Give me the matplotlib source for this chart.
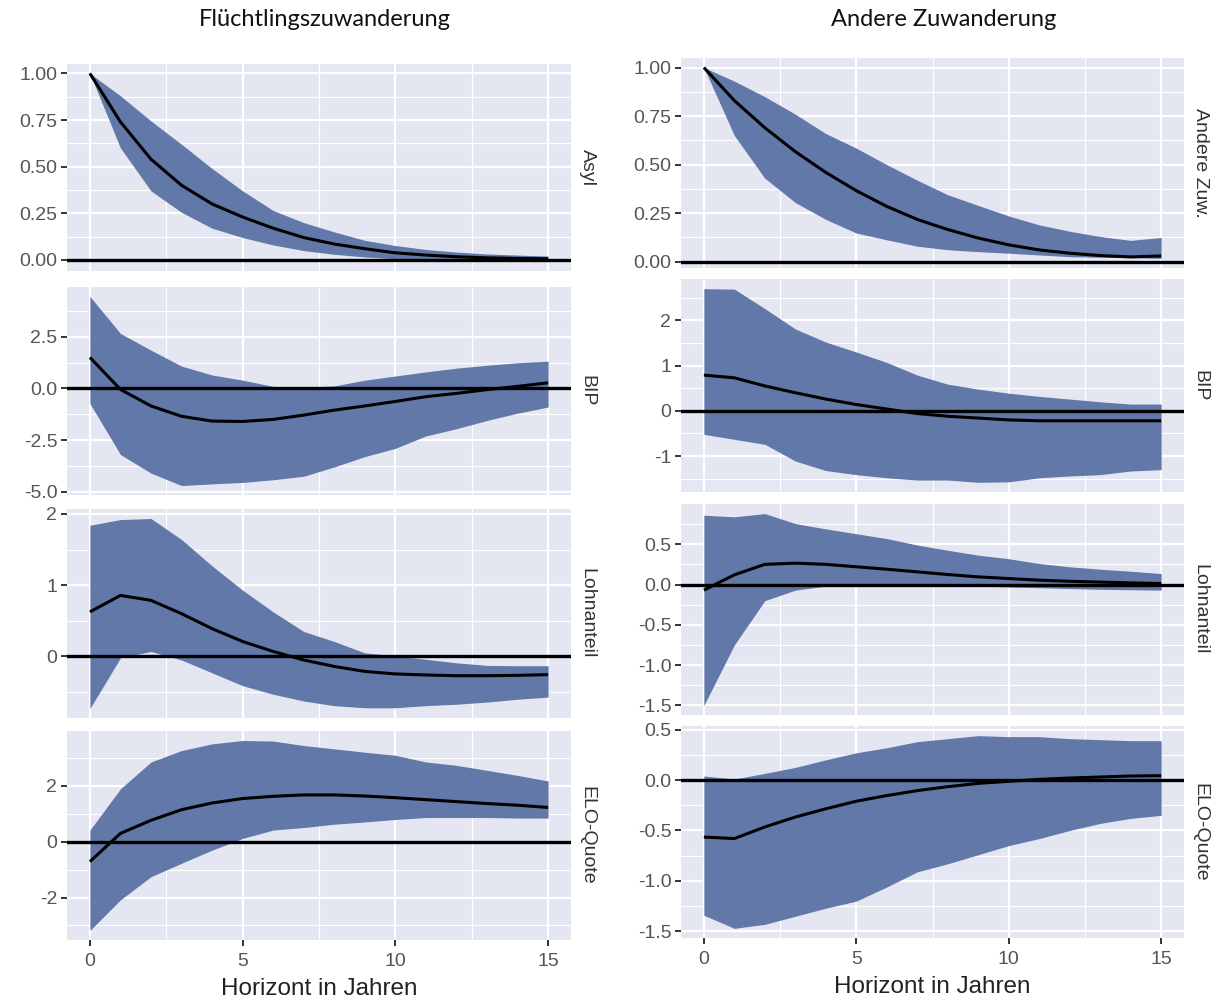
import matplotlib
matplotlib.use("Agg")
import matplotlib.pyplot as plt
import numpy as np

horizon = list(range(16))

col_titles = ["Flüchtlingszuwanderung", "Andere Zuwanderung"]
x_label = "Horizont in Jahren"
x_ticks = [0, 5, 10, 15]

# ---- Left column: Flüchtlingszuwanderung ----
l_asyl_mid = [1.00, 0.74, 0.54, 0.40, 0.30, 0.23, 0.17, 0.12, 0.085, 0.06, 0.038, 0.026, 0.017, 0.011, 0.008, 0.006]
l_asyl_up = [1.00, 0.88, 0.745, 0.62, 0.49, 0.37, 0.265, 0.20, 0.15, 0.105, 0.077, 0.056, 0.042, 0.032, 0.026, 0.021]
l_asyl_lo = [1.00, 0.60, 0.37, 0.255, 0.17, 0.12, 0.08, 0.05, 0.03, 0.016, 0.006, 0.0, -0.004, -0.006, -0.008, -0.009]

l_bip_mid = [1.50, -0.05, -0.85, -1.35, -1.58, -1.60, -1.50, -1.29, -1.05, -0.85, -0.63, -0.40, -0.24, -0.06, 0.10, 0.27]
l_bip_up = [4.45, 2.66, 1.85, 1.08, 0.65, 0.40, 0.10, 0.06, 0.12, 0.40, 0.60, 0.80, 0.98, 1.12, 1.24, 1.32]
l_bip_lo = [-0.73, -3.20, -4.10, -4.70, -4.62, -4.55, -4.42, -4.25, -3.80, -3.30, -2.90, -2.30, -1.95, -1.55, -1.20, -0.90]

l_lohn_mid = [0.625, 0.856, 0.787, 0.60, 0.39, 0.21, 0.07, -0.05, -0.14, -0.21, -0.245, -0.26, -0.27, -0.27, -0.265, -0.255]
l_lohn_up = [1.84, 1.92, 1.935, 1.64, 1.27, 0.93, 0.625, 0.35, 0.21, 0.05, 0.01, -0.04, -0.09, -0.125, -0.13, -0.13]
l_lohn_lo = [-0.73, -0.02, 0.07, -0.05, -0.23, -0.41, -0.53, -0.625, -0.69, -0.72, -0.72, -0.69, -0.67, -0.64, -0.60, -0.57]

l_elo_mid = [-0.71, 0.30, 0.77, 1.15, 1.39, 1.55, 1.63, 1.68, 1.68, 1.64, 1.58, 1.51, 1.44, 1.37, 1.31, 1.23]
l_elo_up = [0.42, 1.90, 2.86, 3.27, 3.51, 3.63, 3.61, 3.45, 3.33, 3.21, 3.10, 2.86, 2.74, 2.56, 2.38, 2.18]
l_elo_lo = [-3.18, -2.08, -1.25, -0.77, -0.30, 0.12, 0.42, 0.51, 0.63, 0.71, 0.80, 0.87, 0.87, 0.87, 0.85, 0.85]

# ---- Right column: Andere Zuwanderung ----
r_zuw_mid = [1.00, 0.83, 0.69, 0.567, 0.46, 0.366, 0.285, 0.218, 0.166, 0.122, 0.087, 0.061, 0.044, 0.032, 0.025, 0.03]
r_zuw_up = [1.00, 0.93, 0.85, 0.76, 0.66, 0.585, 0.50, 0.42, 0.345, 0.29, 0.236, 0.19, 0.157, 0.13, 0.11, 0.125]
r_zuw_lo = [1.00, 0.65, 0.43, 0.305, 0.218, 0.148, 0.113, 0.08, 0.062, 0.052, 0.044, 0.035, 0.026, 0.023, 0.021, 0.017]

r_bip_mid = [0.79, 0.73, 0.55, 0.40, 0.26, 0.14, 0.04, -0.06, -0.12, -0.16, -0.20, -0.22, -0.22, -0.22, -0.22, -0.22]
r_bip_up = [2.70, 2.69, 2.26, 1.81, 1.52, 1.30, 1.07, 0.79, 0.59, 0.48, 0.39, 0.32, 0.26, 0.20, 0.15, 0.15]
r_bip_lo = [-0.52, -0.63, -0.74, -1.11, -1.32, -1.41, -1.48, -1.53, -1.53, -1.58, -1.57, -1.48, -1.44, -1.41, -1.33, -1.30]

r_lohn_mid = [-0.07, 0.12, 0.25, 0.265, 0.25, 0.22, 0.19, 0.157, 0.124, 0.095, 0.074, 0.054, 0.04, 0.03, 0.02, 0.012]
r_lohn_up = [0.86, 0.84, 0.88, 0.756, 0.69, 0.63, 0.57, 0.49, 0.425, 0.364, 0.32, 0.26, 0.22, 0.19, 0.165, 0.136]
r_lohn_lo = [-1.50, -0.75, -0.20, -0.07, -0.02, -0.01, -0.01, -0.01, -0.015, -0.02, -0.03, -0.04, -0.05, -0.06, -0.065, -0.07]

r_elo_mid = [-0.565, -0.58, -0.465, -0.367, -0.285, -0.21, -0.154, -0.105, -0.066, -0.033, -0.013, 0.007, 0.02, 0.03, 0.04, 0.043]
r_elo_up = [0.04, 0.01, 0.066, 0.125, 0.20, 0.27, 0.32, 0.38, 0.41, 0.44, 0.43, 0.43, 0.41, 0.40, 0.39, 0.39]
r_elo_lo = [-1.34, -1.47, -1.43, -1.35, -1.27, -1.20, -1.06, -0.91, -0.83, -0.74, -0.65, -0.58, -0.50, -0.43, -0.38, -0.35]

left_labels = ["Asyl", "BIP", "Lohnanteil", "ELO-Quote"]
right_labels = ["Andere Zuw.", "BIP", "Lohnanteil", "ELO-Quote"]

left_yticks = [[0.00, 0.25, 0.50, 0.75, 1.00], [-5.0, -2.5, 0.0, 2.5], [0, 1, 2], [-2, 0, 2]]
left_yticklabels = [["0.00", "0.25", "0.50", "0.75", "1.00"], ["-5.0", "-2.5", "0.0", "2.5"], ["0", "1", "2"], ["-2", "0", "2"]]
right_yticks = [[0.00, 0.25, 0.50, 0.75, 1.00], [-1, 0, 1, 2], [-1.5, -1.0, -0.5, 0.0, 0.5], [-1.5, -1.0, -0.5, 0.0, 0.5]]
right_yticklabels = [["0.00", "0.25", "0.50", "0.75", "1.00"], ["-1", "0", "1", "2"],
                     ["-1.5", "-1.0", "-0.5", "0.0", "0.5"], ["-1.5", "-1.0", "-0.5", "0.0", "0.5"]]

left_series = [(l_asyl_mid, l_asyl_up, l_asyl_lo), (l_bip_mid, l_bip_up, l_bip_lo),
               (l_lohn_mid, l_lohn_up, l_lohn_lo), (l_elo_mid, l_elo_up, l_elo_lo)]
right_series = [(r_zuw_mid, r_zuw_up, r_zuw_lo), (r_bip_mid, r_bip_up, r_bip_lo),
                (r_lohn_mid, r_lohn_up, r_lohn_lo), (r_elo_mid, r_elo_up, r_elo_lo)]

# ---- style ----
W, H = 1211, 1001
PANEL_BG = "#E4E7F1"
RIBBON = "#6278A8"
TICK_COL = "#555555"
STRIP_COL = "#333333"
FONT = "Liberation Sans"

fig = plt.figure(figsize=(W / 100, H / 100), dpi=100)
fig.patch.set_facecolor("white")

left_x = (67, 571)
right_x = (681, 1184)
left_rows = [(64, 271), (287, 495), (509, 718), (731, 940)]
right_rows = [(58, 268), (279, 492), (504, 715), (726, 938)]


def px_rect(x0, x1, y0, y1):
    return [x0 / W, 1 - y1 / H, (x1 - x0) / W, (y1 - y0) / H]


def minor_from(major, lo, hi):
    step = major[1] - major[0]
    cands = [major[0] - step / 2] + [m + step / 2 for m in major]
    return [c for c in cands if lo <= c <= hi]


def draw_column(xr, rows, series, labels, yticks, yticklabels):
    for i, ((mid, up, lo), lab, yt, ytl, (y0, y1)) in enumerate(zip(series, labels, yticks, yticklabels, rows)):
        ax = fig.add_axes(px_rect(xr[0], xr[1], y0, y1))
        ax.set_facecolor(PANEL_BG)
        for s in ax.spines.values():
            s.set_visible(False)
        ymin = min(lo)
        ymax = max(up)
        pad = (ymax - ymin) * 0.05
        ylim = (ymin - pad, ymax + pad)
        ax.set_xlim(-0.75, 15.75)
        ax.set_ylim(*ylim)
        ax.set_xticks(x_ticks)
        ax.set_xticks(minor_from(x_ticks, -0.75, 15.75), minor=True)
        ax.set_yticks(yt)
        ax.set_yticklabels(ytl)
        ax.set_yticks(minor_from(yt, ylim[0], ylim[1]), minor=True)
        ax.grid(which="major", color="white", linewidth=1.6)
        ax.grid(which="minor", color="white", linewidth=0.8)
        ax.set_axisbelow(True)
        ax.fill_between(horizon, lo, up, color=RIBBON, linewidth=0, zorder=2)
        ax.axhline(0, color="black", linewidth=2.4, zorder=3)
        ax.plot(horizon, mid, color="black", linewidth=2.2, zorder=4, solid_capstyle="butt")
        ax.tick_params(axis="y", which="major", length=4, width=1.4, color="#333333",
                       labelsize=14, labelcolor=TICK_COL, pad=3)
        ax.tick_params(which="minor", length=0)
        for t in ax.get_yticklabels():
            t.set_fontfamily(FONT)
        if i == len(series) - 1:
            ax.tick_params(axis="x", which="major", length=4, width=1.4, color="#333333",
                           labelsize=14, labelcolor=TICK_COL, pad=5)
            ax.set_xticklabels([str(v) for v in x_ticks])
            for t in ax.get_xticklabels():
                t.set_fontfamily(FONT)
            ax.set_xlabel(x_label, fontsize=17.5, family=FONT, color="#222222", labelpad=6)
        else:
            ax.tick_params(axis="x", which="major", length=0, labelbottom=False)
        ax.text(1.0 + 16 / (xr[1] - xr[0]), 0.5, lab, rotation=270, transform=ax.transAxes,
                ha="center", va="center", fontsize=14, family=FONT, color=STRIP_COL)


draw_column(left_x, left_rows, left_series, left_labels, left_yticks, left_yticklabels)
draw_column(right_x, right_rows, right_series, right_labels, right_yticks, right_yticklabels)

fig.text(325 / W, 1 - 20 / H, col_titles[0], ha="center", va="center", fontsize=17, family="Lato", color="#111111")
fig.text(944 / W, 1 - 20 / H, col_titles[1], ha="center", va="center", fontsize=17, family="Lato", color="#111111")

fig.savefig("out.png", dpi=100)
